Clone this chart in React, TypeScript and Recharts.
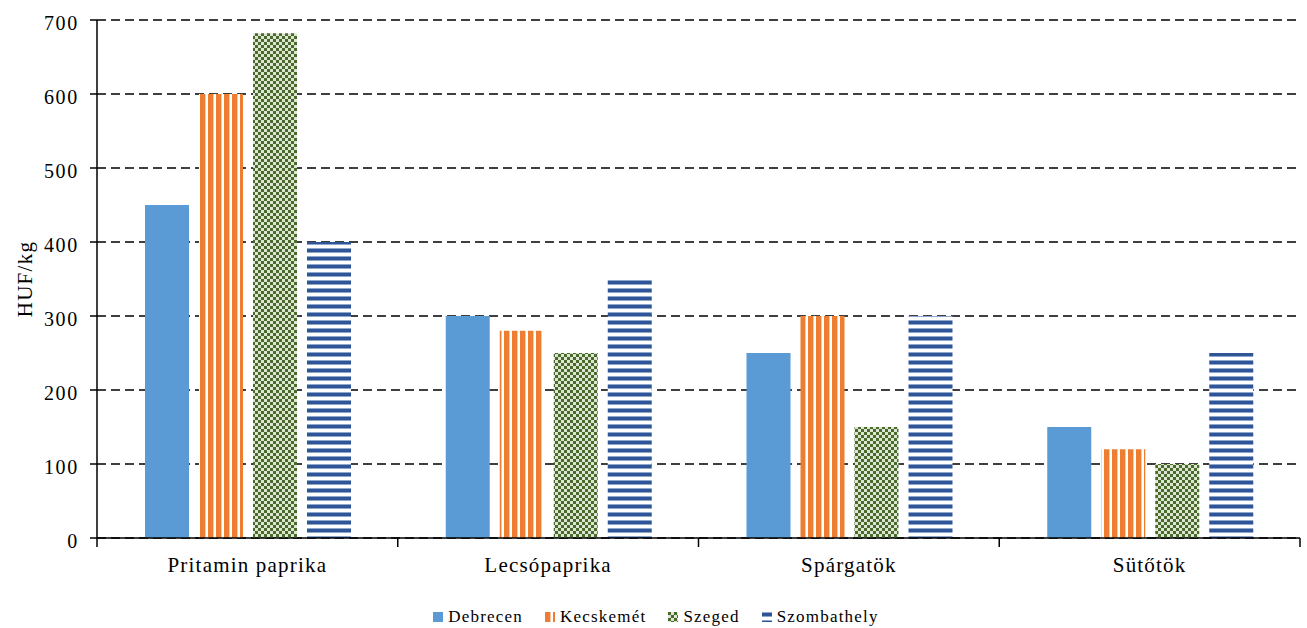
import React from "react";
import { BarChart, Bar, XAxis, YAxis, CartesianGrid } from "recharts";

const categories = ["Pritamin paprika", "Lecsópaprika", "Spárgatök", "Sütőtök"];
const debrecen = [450, 300, 250, 150];
const kecskemet = [600, 280, 300, 120];
const szeged = [682, 250, 150, 100];
const szombathely = [400, 350, 300, 250];
const yTicks = [0, 100, 200, 300, 400, 500, 600, 700];

const SERIES = [
  { key: "Debrecen", fill: "#5B9BD5" },
  { key: "Kecskemét", fill: "url(#pat-kecs)" },
  { key: "Szeged", fill: "url(#pat-szeg)" },
  { key: "Szombathely", fill: "url(#pat-szomb)" },
];

const data = categories.map((name, i) => ({
  name,
  Debrecen: debrecen[i],
  Kecskemét: kecskemet[i],
  Szeged: szeged[i],
  Szombathely: szombathely[i],
}));

const W = 1307;
const H = 628;
const M = { top: 20, right: 7, left: 0, bottom: 0 };
const Y_W = 97;
const FONT = "Times New Roman";
const bandW = (W - M.right - Y_W) / categories.length;

function Patterns() {
  return (
    <svg width={0} height={0} style={{ position: "absolute" }}>
      <defs>
        <pattern id="pat-kecs" patternUnits="userSpaceOnUse" width={8} height={8}>
          <rect width={8} height={8} fill="#fff" />
          <rect x={0} width={5} height={8} fill="#ED7D31" />
          <rect x={5} width={1} height={8} fill="#F7C7A4" />
        </pattern>
        <pattern id="pat-szeg" patternUnits="userSpaceOnUse" width={6} height={6}>
          <rect width={6} height={6} fill="#DCE6D2" />
          <rect x={0} y={0} width={3} height={3} fill="#4A6A2C" />
          <rect x={3} y={3} width={3} height={3} fill="#4A6A2C" />
        </pattern>
        <pattern id="pat-szomb" patternUnits="userSpaceOnUse" width={8} height={8}>
          <rect width={8} height={8} fill="#fff" />
          <rect y={0} width={8} height={1} fill="#8FA6CF" />
          <rect y={1} width={8} height={3} fill="#2F5597" />
          <rect y={4} width={8} height={1} fill="#8FA6CF" />
        </pattern>
      </defs>
    </svg>
  );
}

function CatTick(props: any) {
  const { x, y, payload, index } = props;
  const half = bandW / 2;
  return (
    <g>
      <line x1={x - half} x2={x - half} y1={y - 8} y2={y + 1} stroke="#000" strokeWidth={1.5} />
      {index === categories.length - 1 && (
        <line x1={x + half} x2={x + half} y1={y - 8} y2={y + 1} stroke="#000" strokeWidth={1.5} />
      )}
      <text
        x={x}
        y={y + 26}
        textAnchor="middle"
        fontFamily={FONT}
        fontSize={21}
        letterSpacing={1.2}
        fill="#000"
      >
        {payload.value}
      </text>
    </g>
  );
}

function ValTick(props: any) {
  const { x, y, payload } = props;
  return (
    <text
      x={x}
      y={y + 10}
      textAnchor="end"
      fontFamily={FONT}
      fontSize={20}
      letterSpacing={1.7}
      fill="#000"
    >
      {payload.value}
    </text>
  );
}

function YLabel() {
  return (
    <text
      x={0}
      y={0}
      transform={`translate(32, 279) rotate(-90)`}
      textAnchor="middle"
      fontFamily={FONT}
      fontSize={21}
      letterSpacing={1.3}
      fill="#000"
    >
      HUF/kg
    </text>
  );
}

function Legend() {
  return (
    <div
      style={{
        position: "absolute",
        top: 607,
        left: 0,
        width: W,
        display: "flex",
        justifyContent: "center",
        gap: 22,
        fontFamily: FONT,
        fontSize: 17,
        letterSpacing: 1.2,
        color: "#000",
        paddingLeft: 5,
        boxSizing: "border-box",
      }}
    >
      {SERIES.map((s) => (
        <div key={s.key} style={{ display: "flex", alignItems: "center", gap: 5 }}>
          <svg width={10} height={10}>
            <rect width={10} height={10} fill={s.fill} />
          </svg>
          <span>{s.key}</span>
        </div>
      ))}
    </div>
  );
}

export default function App() {
  return (
    <div style={{ position: "absolute", top: 0, left: 0, width: W, height: H, background: "#fff", fontFamily: FONT }}>
      <Patterns />
      <BarChart width={W} height={H} data={data} margin={M} barCategoryGap={48} barGap={10}>
        <CartesianGrid vertical={false} stroke="#000" strokeWidth={1.5} strokeDasharray="9 5" />
        <XAxis
          dataKey="name"
          height={90}
          axisLine={{ stroke: "#000", strokeWidth: 1.5 }}
          tickLine={false}
          tick={<CatTick />}
          interval={0}
        />
        <YAxis
          width={Y_W}
          domain={[0, 700]}
          ticks={yTicks}
          interval={0}
          axisLine={{ stroke: "#000", strokeWidth: 1.5 }}
          tickLine={{ stroke: "#000", strokeWidth: 1.5 }}
          tickSize={7}
          tickMargin={11}
          tick={<ValTick />}
          label={<YLabel />}
        />
        {SERIES.map((s) => (
          <Bar key={s.key} dataKey={s.key} fill={s.fill} isAnimationActive={false} />
        ))}
      </BarChart>
      <Legend />
    </div>
  );
}
